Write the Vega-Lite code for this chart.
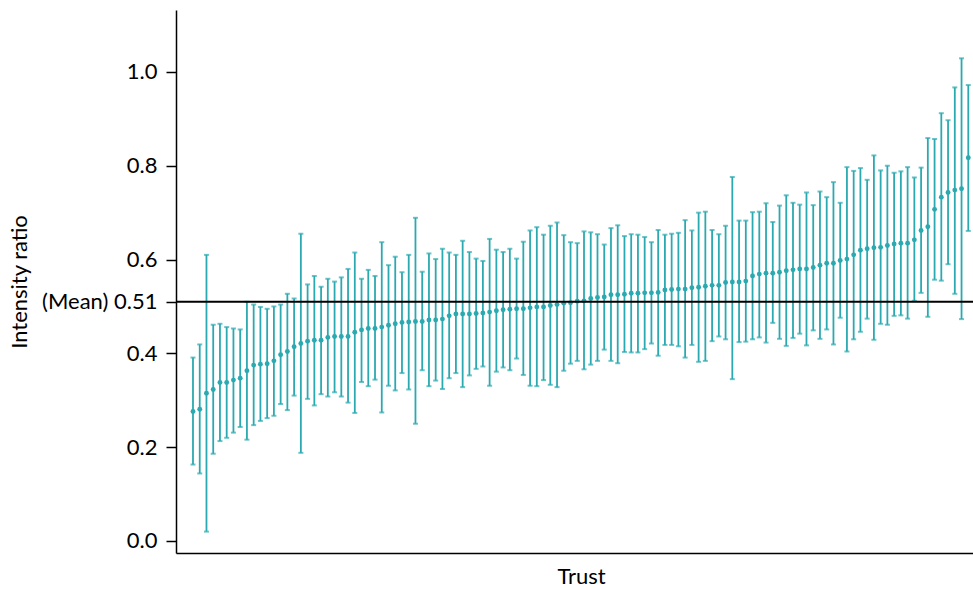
{
  "$schema": "https://vega.github.io/schema/vega-lite/v6.json",
  "width": 797,
  "height": 543,
  "autosize": {"type": "none"},
  "padding": {"left": 176, "top": 10, "right": 0, "bottom": 37},
  "config": {
    "view": {"stroke": null},
    "font": "Lato",
    "axis": {"domainColor": "#000000", "domainWidth": 1.5, "tickColor": "#000000", "tickWidth": 1.5, "labelColor": "#000000", "titleColor": "#000000", "titleFontWeight": "normal", "grid": false}
  },
  "data": {"values": [
    {"r":1,"v":0.276,"lo":0.163,"hi":0.391},
    {"r":2,"v":0.281,"lo":0.144,"hi":0.419},
    {"r":3,"v":0.315,"lo":0.020,"hi":0.610},
    {"r":4,"v":0.323,"lo":0.186,"hi":0.461},
    {"r":5,"v":0.338,"lo":0.213,"hi":0.463},
    {"r":6,"v":0.338,"lo":0.220,"hi":0.456},
    {"r":7,"v":0.343,"lo":0.231,"hi":0.453},
    {"r":8,"v":0.347,"lo":0.243,"hi":0.451},
    {"r":9,"v":0.363,"lo":0.216,"hi":0.510},
    {"r":10,"v":0.375,"lo":0.247,"hi":0.504},
    {"r":11,"v":0.377,"lo":0.256,"hi":0.499},
    {"r":12,"v":0.378,"lo":0.262,"hi":0.495},
    {"r":13,"v":0.384,"lo":0.267,"hi":0.500},
    {"r":14,"v":0.397,"lo":0.292,"hi":0.504},
    {"r":15,"v":0.404,"lo":0.279,"hi":0.527},
    {"r":16,"v":0.414,"lo":0.310,"hi":0.517},
    {"r":17,"v":0.421,"lo":0.188,"hi":0.655},
    {"r":18,"v":0.426,"lo":0.303,"hi":0.547},
    {"r":19,"v":0.428,"lo":0.289,"hi":0.565},
    {"r":20,"v":0.428,"lo":0.313,"hi":0.542},
    {"r":21,"v":0.434,"lo":0.308,"hi":0.559},
    {"r":22,"v":0.436,"lo":0.317,"hi":0.553},
    {"r":23,"v":0.436,"lo":0.308,"hi":0.562},
    {"r":24,"v":0.436,"lo":0.295,"hi":0.580},
    {"r":25,"v":0.445,"lo":0.273,"hi":0.615},
    {"r":26,"v":0.450,"lo":0.339,"hi":0.559},
    {"r":27,"v":0.453,"lo":0.330,"hi":0.578},
    {"r":28,"v":0.453,"lo":0.344,"hi":0.565},
    {"r":29,"v":0.456,"lo":0.274,"hi":0.637},
    {"r":30,"v":0.460,"lo":0.331,"hi":0.588},
    {"r":31,"v":0.463,"lo":0.321,"hi":0.606},
    {"r":32,"v":0.466,"lo":0.358,"hi":0.573},
    {"r":33,"v":0.467,"lo":0.323,"hi":0.610},
    {"r":34,"v":0.468,"lo":0.250,"hi":0.689},
    {"r":35,"v":0.468,"lo":0.364,"hi":0.574},
    {"r":36,"v":0.471,"lo":0.330,"hi":0.613},
    {"r":37,"v":0.471,"lo":0.342,"hi":0.601},
    {"r":38,"v":0.473,"lo":0.324,"hi":0.623},
    {"r":39,"v":0.480,"lo":0.347,"hi":0.615},
    {"r":40,"v":0.484,"lo":0.358,"hi":0.610},
    {"r":41,"v":0.484,"lo":0.328,"hi":0.640},
    {"r":42,"v":0.484,"lo":0.353,"hi":0.616},
    {"r":43,"v":0.485,"lo":0.367,"hi":0.602},
    {"r":44,"v":0.486,"lo":0.372,"hi":0.597},
    {"r":45,"v":0.488,"lo":0.331,"hi":0.644},
    {"r":46,"v":0.491,"lo":0.361,"hi":0.621},
    {"r":47,"v":0.493,"lo":0.370,"hi":0.616},
    {"r":48,"v":0.494,"lo":0.364,"hi":0.623},
    {"r":49,"v":0.495,"lo":0.389,"hi":0.602},
    {"r":50,"v":0.495,"lo":0.354,"hi":0.638},
    {"r":51,"v":0.497,"lo":0.331,"hi":0.662},
    {"r":52,"v":0.499,"lo":0.330,"hi":0.669},
    {"r":53,"v":0.499,"lo":0.343,"hi":0.653},
    {"r":54,"v":0.502,"lo":0.333,"hi":0.672},
    {"r":55,"v":0.504,"lo":0.328,"hi":0.679},
    {"r":56,"v":0.507,"lo":0.363,"hi":0.652},
    {"r":57,"v":0.508,"lo":0.378,"hi":0.637},
    {"r":58,"v":0.511,"lo":0.384,"hi":0.635},
    {"r":59,"v":0.512,"lo":0.366,"hi":0.660},
    {"r":60,"v":0.517,"lo":0.376,"hi":0.658},
    {"r":61,"v":0.519,"lo":0.384,"hi":0.654},
    {"r":62,"v":0.520,"lo":0.408,"hi":0.632},
    {"r":63,"v":0.525,"lo":0.384,"hi":0.667},
    {"r":64,"v":0.525,"lo":0.379,"hi":0.673},
    {"r":65,"v":0.526,"lo":0.403,"hi":0.650},
    {"r":66,"v":0.528,"lo":0.402,"hi":0.654},
    {"r":67,"v":0.528,"lo":0.402,"hi":0.653},
    {"r":68,"v":0.529,"lo":0.409,"hi":0.648},
    {"r":69,"v":0.529,"lo":0.421,"hi":0.637},
    {"r":70,"v":0.530,"lo":0.395,"hi":0.663},
    {"r":71,"v":0.535,"lo":0.418,"hi":0.653},
    {"r":72,"v":0.536,"lo":0.418,"hi":0.655},
    {"r":73,"v":0.537,"lo":0.415,"hi":0.657},
    {"r":74,"v":0.537,"lo":0.391,"hi":0.684},
    {"r":75,"v":0.540,"lo":0.418,"hi":0.662},
    {"r":76,"v":0.541,"lo":0.382,"hi":0.700},
    {"r":77,"v":0.543,"lo":0.384,"hi":0.702},
    {"r":78,"v":0.545,"lo":0.426,"hi":0.663},
    {"r":79,"v":0.545,"lo":0.436,"hi":0.654},
    {"r":80,"v":0.551,"lo":0.430,"hi":0.672},
    {"r":81,"v":0.552,"lo":0.345,"hi":0.776},
    {"r":82,"v":0.552,"lo":0.424,"hi":0.683},
    {"r":83,"v":0.554,"lo":0.425,"hi":0.683},
    {"r":84,"v":0.565,"lo":0.430,"hi":0.701},
    {"r":85,"v":0.569,"lo":0.434,"hi":0.702},
    {"r":86,"v":0.571,"lo":0.423,"hi":0.720},
    {"r":87,"v":0.571,"lo":0.465,"hi":0.680},
    {"r":88,"v":0.573,"lo":0.431,"hi":0.715},
    {"r":89,"v":0.576,"lo":0.416,"hi":0.737},
    {"r":90,"v":0.578,"lo":0.433,"hi":0.721},
    {"r":91,"v":0.580,"lo":0.442,"hi":0.717},
    {"r":92,"v":0.580,"lo":0.417,"hi":0.743},
    {"r":93,"v":0.583,"lo":0.449,"hi":0.716},
    {"r":94,"v":0.588,"lo":0.431,"hi":0.745},
    {"r":95,"v":0.592,"lo":0.451,"hi":0.733},
    {"r":96,"v":0.592,"lo":0.419,"hi":0.765},
    {"r":97,"v":0.598,"lo":0.476,"hi":0.721},
    {"r":98,"v":0.601,"lo":0.404,"hi":0.797},
    {"r":99,"v":0.610,"lo":0.430,"hi":0.789},
    {"r":100,"v":0.620,"lo":0.446,"hi":0.795},
    {"r":101,"v":0.623,"lo":0.474,"hi":0.770},
    {"r":102,"v":0.625,"lo":0.429,"hi":0.822},
    {"r":103,"v":0.626,"lo":0.463,"hi":0.790},
    {"r":104,"v":0.630,"lo":0.461,"hi":0.800},
    {"r":105,"v":0.633,"lo":0.480,"hi":0.785},
    {"r":106,"v":0.635,"lo":0.481,"hi":0.788},
    {"r":107,"v":0.635,"lo":0.474,"hi":0.797},
    {"r":108,"v":0.642,"lo":0.512,"hi":0.775},
    {"r":109,"v":0.662,"lo":0.529,"hi":0.796},
    {"r":110,"v":0.670,"lo":0.478,"hi":0.859},
    {"r":111,"v":0.707,"lo":0.557,"hi":0.857},
    {"r":112,"v":0.733,"lo":0.555,"hi":0.912},
    {"r":113,"v":0.743,"lo":0.590,"hi":0.897},
    {"r":114,"v":0.748,"lo":0.527,"hi":0.967},
    {"r":115,"v":0.751,"lo":0.473,"hi":1.029},
    {"r":116,"v":0.817,"lo":0.661,"hi":0.972}
  ]},
  "encoding": {
    "x": {"field": "r", "type": "quantitative", "scale": {"domain": [-1.52, 116.7], "nice": false, "zero": false},
          "axis": {"title": "Trust", "labels": false, "ticks": false, "titleFontSize": 22, "titlePadding": 13, "titleX": 405, "titleAlign": "center"}}
  },
  "layer": [
    {
      "mark": {"type": "rule", "color": "#2BA9B0", "strokeWidth": 1.8},
      "encoding": {
        "y": {"field": "lo", "type": "quantitative", "scale": {"domain": [-0.0256, 1.132], "nice": false, "zero": false},
              "axis": {"title": "Intensity ratio", "values": [0, 0.2, 0.4, 0.51, 0.6, 0.8, 1.0],
                       "labelExpr": "datum.value == 0.51 ? '(Mean) 0.51' : format(datum.value, '.1f')",
                       "labelFontSize": 22, "titleFontSize": 22, "tickSize": 10, "labelPadding": 9, "titlePadding": 10}},
        "y2": {"field": "hi"}
      }
    },
    {
      "mark": {"type": "tick", "orient": "horizontal", "color": "#2BA9B0", "size": 5, "thickness": 2},
      "encoding": {"y": {"field": "lo", "type": "quantitative"}}
    },
    {
      "mark": {"type": "tick", "orient": "horizontal", "color": "#2BA9B0", "size": 5, "thickness": 2},
      "encoding": {"y": {"field": "hi", "type": "quantitative"}}
    },
    {
      "mark": {"type": "circle", "color": "#2BA9B0", "size": 24, "opacity": 1},
      "encoding": {"y": {"field": "v", "type": "quantitative"}}
    },
    {
      "data": {"values": [{"m": 0.51}]},
      "mark": {"type": "rule", "color": "#000000", "strokeWidth": 1.8},
      "encoding": {"y": {"field": "m", "type": "quantitative"}, "x": null}
    }
  ]
}
